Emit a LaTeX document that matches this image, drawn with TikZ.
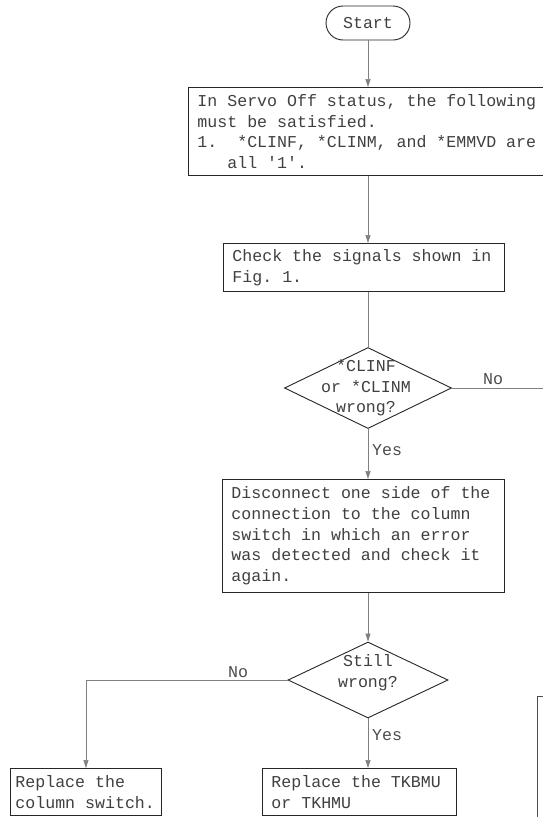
\documentclass[tikz,border=0pt]{standalone}
\usepackage{fontspec}
\newfontfamily\tw{Liberation Mono}
\usetikzlibrary{shapes.geometric,shapes.misc,arrows.meta}
\newcommand{\twfont}{\tw\fontsize{16.6}{20.7}\selectfont}
% full-cell word spaces (the align keys shrink them otherwise)
\newcommand{\mono}{\spaceskip=9.96pt\relax\xspaceskip=9.96pt\relax}
\begin{document}
\begin{tikzpicture}[x=1pt,y=-1pt,
  every node/.style={font=\twfont, text=black!75},
  box/.style={draw=black!85, line width=0.9pt, anchor=north west,
    inner xsep=9pt, inner ysep=0pt, align=left},
  term/.style={draw=black!85, line width=0.9pt, rounded rectangle,
    minimum width=84, minimum height=34, inner sep=0pt},
  decision/.style={draw=black!85, line width=0.9pt, diamond, inner sep=0pt},
  dtext/.style={align=center, inner sep=0pt},
  lbl/.style={inner sep=0pt, text=black!70},
  conn/.style={draw=black!50, line width=0.6pt},
  arr/.style={conn, -{Triangle[length=8pt,width=5pt]}}]
\useasboundingbox (0,0) rectangle (543,817);
\fill[white] (0,0) rectangle (543,817);
\begin{scope}
\clip (0,0) rectangle (543,817);

% spine of the main flow
\coordinate (sp) at (368,0);

% nodes
\node[term] (start) at (368,23) {Start};

\node[box, text width=360, minimum height=88] (cond) at (188,87)
  {\mono In Servo Off status, the following\\
   must be satisfied.\\
   1.\hphantom{00}*CLINF, *CLINM, and *EMMVD are\\
   \hphantom{000}all '1'.};

\node[box, text width=263, minimum height=48] (check) at (223,243)
  {\mono Check the signals shown in\\Fig. 1.};

\node[decision, minimum width=167, minimum height=81] (d1) at (368,388) {};
\node[dtext] (d1t) at (366,388) {\mono *CLINF\\or *CLINM\\wrong?};

\node[box, text width=264, minimum height=113] (disc) at (222,479)
  {\mono Disconnect one side of the\\
   connection to the column\\
   switch in which an error\\
   was detected and check it\\
   again.};

\node[decision, minimum width=160, minimum height=76] (d2) at (368,680) {};
\node[dtext] (d2t) at (368,673) {Still\\wrong?};

\node[box, inner xsep=5pt, text width=141, minimum height=47] (repl) at (10,768)
  {\mono Replace the\\column switch.};

\node[box, text width=176, minimum height=47] (tk) at (262,768)
  {\mono Replace the TKBMU\\or TKHMU};

\node[draw=black!70, line width=0.8pt, anchor=north west, inner sep=0pt,
  minimum width=40, minimum height=200] (side) at (537,696) {};

% connectors
\draw[arr] (start.south) -- (sp |- cond.north);
\draw[arr] (sp |- cond.south) -- (sp |- check.north);
\draw[conn] (sp |- check.south) -- (d1.north);
\draw[arr] (d1.south) -- (disc.north -| d1.south);
\node[lbl, anchor=west] (yes1) at (372,450) {Yes};
\coordinate (noend) at (550,388);
\draw[conn] (d1.east) -- (noend);
\node[lbl] (no1) at (493,379) {No};
\draw[arr] (sp |- disc.south) -- (d2.north);
\draw[arr] (d2.south) -- (d2.south |- tk.north);
\node[lbl, anchor=west] (yes2) at (372,735) {Yes};
\draw[arr] (d2.west) -| (repl.north);
\node[lbl] (no2) at (238,672) {No};
\end{scope}
\end{tikzpicture}
\end{document}
